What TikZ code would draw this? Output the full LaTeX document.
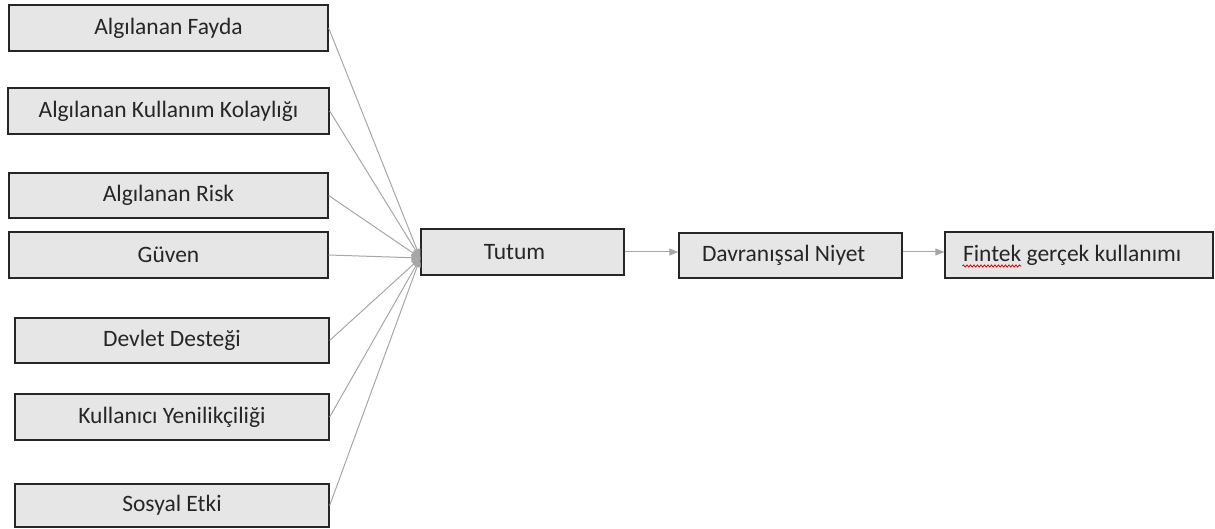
\documentclass[tikz,border=0pt]{standalone}
\usepackage{fontspec}
\setmainfont{Carlito}
\usetikzlibrary{arrows.meta,calc,decorations.pathmorphing}
\begin{document}
\begin{tikzpicture}[x=1pt,y=-1pt,
  box/.style={draw=black!85,line width=1.3pt,fill=boxfill,inner sep=0pt,font=\fontsize{23.5}{26}\selectfont,text=black!85},
  link/.style={draw=linegray,line width=1pt,-{Triangle[length=9pt,width=7pt]}}]
\definecolor{boxfill}{HTML}{E7E6E6}
\definecolor{linegray}{HTML}{A6A6A6}
\useasboundingbox (0,0) rectangle (1215,529);
\node[box,minimum width=319pt,minimum height=46pt] (fayda) at (168.5,28) {Algılanan Fayda};
\node[box,minimum width=321pt,minimum height=46pt] (kolay) at (168.5,111) {Algılanan Kullanım Kolaylığı};
\node[box,minimum width=319pt,minimum height=45pt] (risk) at (168.5,195.5) {Algılanan Risk};
\node[box,minimum width=319pt,minimum height=46pt] (guven) at (168.5,255) {Güven};
\node[box,minimum width=314pt,minimum height=45pt] (devlet) at (172,340.5) {Devlet Desteği};
\node[box,minimum width=314pt,minimum height=46pt] (yenilik) at (172,417) {Kullanıcı Yenilikçiliği};
\node[box,minimum width=314pt,minimum height=43pt] (sosyal) at (172,505.5) {Sosyal Etki};
\node[box,minimum width=203pt,minimum height=46pt] (tutum) at (522.5,252) {\makebox[183pt][c]{\hspace*{-16pt}Tutum}};
\node[box,minimum width=223pt,minimum height=45pt] (niyet) at (790.5,255.5) {\makebox[177pt][l]{Davranışsal Niyet}};
\node[box,minimum width=268pt,minimum height=46pt] (fintek) at (1079,255) {\makebox[232pt][l]{Fintek gerçek kullanımı}};
\draw[red!85!black,line width=0.8pt,decorate,decoration={snake,amplitude=1.1pt,segment length=3.5pt}]
  ($(fintek.west)+(18,11)$) -- ($(fintek.west)+(77,11)$);
\coordinate (conv) at ($(tutum.west)+(0,6)$);
\foreach \n in {fayda,kolay,risk,guven,devlet,yenilik,sosyal}
  \draw[link] (\n.east) -- (conv);
\draw[link] (tutum.east) -- (tutum.east -| niyet.west);
\draw[link] (niyet.east |- tutum.east) -- (fintek.west |- tutum.east);
\end{tikzpicture}
\end{document}
